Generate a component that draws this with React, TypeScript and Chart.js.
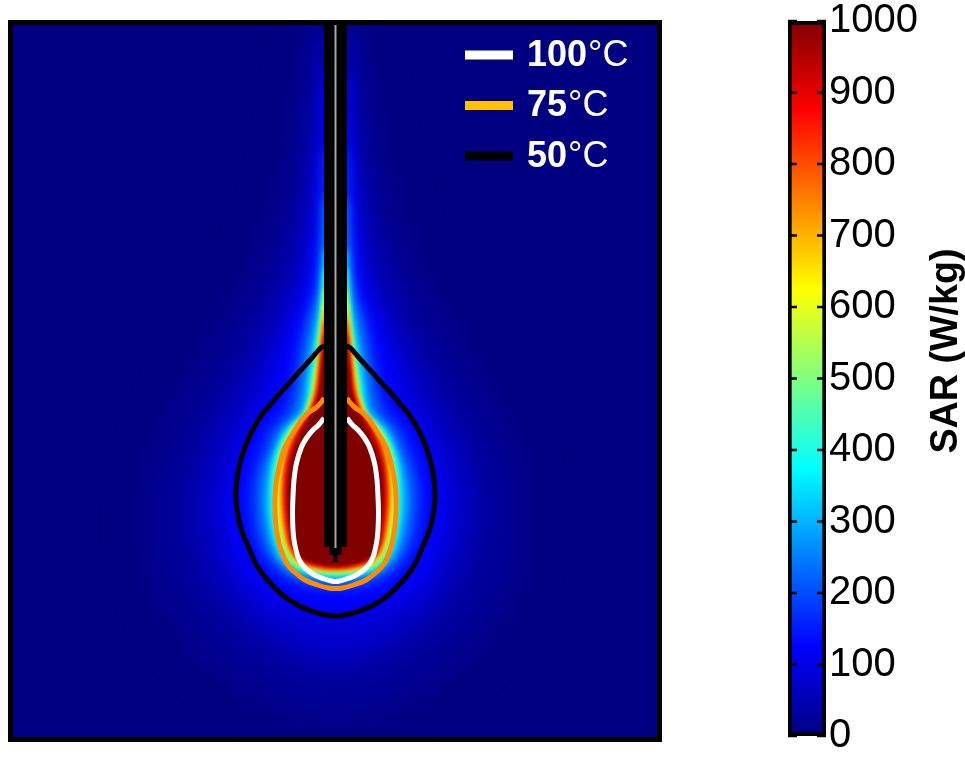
import React, { useEffect, useRef } from 'react';
import { Chart, registerables } from 'chart.js';

// ---------------- DATA ----------------
// Coordinates in mm: x = lateral offset from the antenna axis, y = depth below the top surface.
// Each SAR / temperature contour is symmetric about the antenna; given as [depth, halfWidth].
const SAR_MAX = 1000;
const sarLevels = [30, 60, 100, 150, 200, 300, 400, 500, 600, 700, 800, 900, 1000];

const sar30 = [[-2.5, 1.4], [3.5, 2.2], [11.5, 3.5], [19.5, 5.5], [26.5, 8.5], [32.5, 12.0], [38.5, 15.5], [44.5, 17.8], [49.5, 18.5], [54.5, 17.8], [59.5, 15.5], [63.5, 11.8], [66.5, 7.5], [68.5, 3.0], [69.1, 0]];
const sar60 = [[1.5, 1.15], [7.5, 1.5], [14.5, 2.2], [20.5, 3.2], [25.5, 4.5], [29.5, 6.2], [33.5, 8.0], [37.5, 10.0], [41.5, 12.0], [45.5, 13.3], [48.5, 13.6], [52.5, 13.0], [56.5, 11.2], [60.0, 8.0], [62.5, 4.0], [63.5, 0]];
const sar100 = [[5.5, 1.15], [12.5, 1.4], [17.5, 1.8], [22.5, 2.4], [26.5, 3.2], [29.8, 4.5], [33.2, 5.6], [37.5, 7.1], [40.5, 8.8], [43.5, 10.0], [47.2, 10.8], [50.5, 10.6], [53.5, 9.8], [56.0, 8.2], [57.5, 6.2], [58.5, 3.6], [58.9, 0]];
const sar150 = [[12.5, 1.15], [17.5, 1.4], [22.5, 1.7], [26.5, 2.2], [29.8, 3.3], [33.2, 4.0], [36.0, 4.5], [37.5, 4.9], [38.8, 5.5], [40.5, 6.9], [42.2, 7.55], [44.0, 8.2], [45.5, 8.55], [47.2, 8.7], [48.8, 8.65], [50.5, 8.4], [52.2, 7.9], [54.0, 6.8], [55.5, 5.0], [56.3, 2.8], [56.6, 0]];
const sar200 = [[17.5, 1.15], [20.5, 1.25], [23.2, 1.4], [26.5, 1.75], [29.8, 2.6], [33.2, 3.2], [36.0, 3.6], [37.5, 3.9], [38.8, 4.3], [40.5, 5.8], [42.2, 6.55], [44.0, 7.2], [45.5, 7.55], [47.2, 7.7], [48.8, 7.65], [50.5, 7.4], [52.2, 6.9], [53.7, 6.0], [55.0, 4.4], [55.7, 2.0], [55.9, 0]];
const sar300 = [[22.5, 1.15], [25.0, 1.3], [27.5, 1.5], [29.8, 1.85], [32.0, 2.25], [34.0, 2.6], [36.0, 2.9], [37.5, 3.05], [38.8, 3.45], [40.5, 5.1], [42.2, 5.9], [43.8, 6.45], [45.5, 6.75], [47.2, 6.9], [48.8, 6.85], [50.5, 6.6], [52.2, 6.15], [53.7, 5.3], [54.7, 3.8], [55.3, 0]];
const sar400 = [[24.5, 1.15], [26.5, 1.3], [28.5, 1.5], [30.5, 1.75], [32.5, 2.0], [34.5, 2.3], [36.0, 2.5], [37.5, 2.7], [38.8, 3.2], [40.5, 4.7], [42.2, 5.65], [43.8, 6.1], [45.5, 6.3], [47.2, 6.35], [48.8, 6.3], [50.5, 6.1], [52.2, 5.6], [53.7, 4.7], [54.6, 3.2], [55.1, 0]];
const sar500 = [[26.5, 1.15], [28.0, 1.28], [30.0, 1.45], [32.0, 1.7], [34.0, 1.95], [35.5, 2.2], [37.0, 2.4], [38.0, 2.75], [39.0, 3.05], [40.0, 4.1], [41.5, 5.0], [43.0, 5.5], [44.5, 5.8], [46.5, 6.0], [48.5, 5.95], [50.5, 5.7], [52.2, 5.2], [53.6, 4.4], [54.4, 3.0], [54.8, 0]];
const sar600 = [[27.8, 1.15], [29.2, 1.28], [31.0, 1.48], [33.0, 1.7], [34.8, 1.92], [36.0, 2.1], [37.0, 2.25], [38.0, 2.6], [39.0, 2.95], [40.0, 3.9], [41.5, 4.7], [43.0, 5.2], [44.5, 5.5], [46.5, 5.65], [48.5, 5.6], [50.5, 5.35], [52.2, 4.9], [53.5, 4.1], [54.2, 2.8], [54.6, 0]];
const sar700 = [[28.8, 1.15], [30.2, 1.28], [32.0, 1.47], [33.8, 1.67], [35.5, 1.88], [37.0, 2.15], [38.0, 2.45], [39.0, 2.85], [40.0, 3.7], [41.5, 4.5], [43.0, 5.0], [44.5, 5.3], [46.5, 5.45], [48.5, 5.4], [50.5, 5.15], [52.2, 4.7], [53.4, 4.0], [54.1, 2.7], [54.5, 0]];
const sar800 = [[29.8, 1.15], [31.0, 1.27], [32.8, 1.45], [34.5, 1.63], [36.0, 1.8], [37.0, 2.0], [38.0, 2.3], [39.0, 2.75], [40.0, 3.5], [41.5, 4.3], [43.0, 4.8], [44.5, 5.1], [46.5, 5.25], [48.5, 5.2], [50.5, 4.95], [52.2, 4.55], [53.3, 3.85], [54.0, 2.6], [54.4, 0]];
const sar900 = [[31.0, 1.15], [32.8, 1.35], [34.5, 1.5], [36.0, 1.65], [37.0, 1.85], [38.0, 2.15], [39.0, 2.6], [40.0, 3.25], [41.0, 3.8], [42.2, 4.3], [43.8, 4.75], [45.5, 4.95], [47.2, 5.0], [48.8, 4.9], [50.5, 4.7], [52.2, 4.3], [53.2, 3.65], [53.8, 2.6], [54.2, 0]];
const sar1000 = [[32.5, 1.15], [34.5, 1.42], [36.0, 1.52], [37.0, 1.68], [38.0, 2.0], [39.0, 2.5], [40.0, 3.0], [41.0, 3.5], [42.2, 4.0], [43.8, 4.5], [45.5, 4.7], [47.2, 4.75], [48.8, 4.65], [50.5, 4.45], [52.2, 4.05], [53.2, 3.4], [53.7, 2.4], [54.1, 0]];
const sarProfiles = [sar30, sar60, sar100, sar150, sar200, sar300, sar400, sar500, sar600, sar700, sar800, sar900, sar1000];

// Temperature isotherms
const tempLevels = [100, 75, 50];
const temp100 = [[39.3, 1.15], [40.0, 1.7], [40.5, 2.25], [41.3, 2.9], [42.2, 3.4], [43.8, 3.9], [45.5, 4.15], [47.2, 4.25], [48.8, 4.3], [50.5, 4.25], [51.5, 4.15], [52.5, 3.95], [53.2, 3.75], [54.0, 3.3], [54.6, 2.7], [55.1, 1.9], [55.4, 1.1], [55.6, 0.4], [55.65, 0]];
const temp75 = [[37.3, 1.15], [37.7, 1.4], [38.3, 2.0], [38.8, 2.75], [39.5, 3.4], [40.5, 4.05], [42.2, 5.05], [43.8, 5.55], [45.5, 5.9], [47.2, 6.05], [48.8, 6.05], [50.5, 5.9], [52.2, 5.55], [53.8, 4.9], [54.7, 4.1], [55.5, 3.05], [56.0, 1.8], [56.3, 0.7], [56.35, 0]];
const temp50 = [[32.1, 1.1], [32.3, 1.5], [33.5, 2.55], [34.5, 3.45], [35.5, 4.35], [36.8, 5.55], [38.0, 6.55], [38.8, 7.25], [40.5, 8.3], [42.2, 9.05], [44.0, 9.6], [45.5, 9.85], [47.2, 9.95], [48.8, 9.8], [50.5, 9.4], [52.2, 8.7], [54.0, 7.9], [55.5, 6.8], [57.0, 5.3], [58.0, 3.8], [58.6, 2.4], [59.0, 1.0], [59.1, 0]];
const tempProfiles = [temp100, temp75, temp50];

// Antenna (x, y) outline and inner conductor
const antennaOutline = [[-1.15, -1], [1.15, -1], [1.15, 52.2], [0.6, 52.2], [0.6, 53.0], [0.2, 53.0], [0.2, 53.7], [-0.2, 53.7], [-0.2, 53.0], [-0.6, 53.0], [-0.6, 52.2], [-1.15, 52.2]];
const antennaCore = [[0, -1], [0, 52.3]];

// Domain and colour bar
const domainX = [-32.25, 32.15];
const domainY = [0, 71.2];
const colorbarRange = [0, 1000];
const colorbarStep = 100;
const colorbarTitle = 'SAR (W/kg)';
const tempUnit = '°C';

// ---------------- STYLE ----------------
const heatBlurRadius = [22, 14, 9, 6, 4, 3, 2.5, 2, 2, 2, 2, 2, 1.5];
const tempLineColors = ['#FFFFFF', '#FF8C00', '#000000'];
const tempLegendColors = ['#FFFFFF', '#FFC000', '#000000'];
const FONT = "'Liberation Sans', Arial, sans-serif";

function jet(v: number): string {
  const c = (t: number) => Math.round(255 * Math.max(0, Math.min(1, t)));
  return `rgb(${c(1.5 - Math.abs(4 * v - 3))},${c(1.5 - Math.abs(4 * v - 2))},${c(1.5 - Math.abs(4 * v - 1))})`;
}
const jetStops = [0, 0.125, 0.375, 0.625, 0.875, 1];

function closedShape(profile: number[][]) {
  const right = profile.map(([d, w]) => ({ x: w, y: d }));
  const left = profile.slice(0, -1).reverse().map(([d, w]) => ({ x: -w, y: d }));
  return [...right, ...left];
}
function openContour(profile: number[][]) {
  const left = profile.map(([d, w]) => ({ x: -w, y: d }));
  const right = profile.slice(0, -1).reverse().map(([d, w]) => ({ x: w, y: d }));
  return [...left, ...right];
}

// Blur plugin registered BEFORE Filler so its hook runs before the fill is painted
const heatBlur = {
  id: 'heatBlur',
  beforeDatasetDraw(chart: any, args: any) {
    const ds: any = chart.data.datasets[args.index];
    if (ds && ds.blurRadius) {
      chart.ctx.save();
      chart.ctx.filter = `blur(${ds.blurRadius}px)`;
    }
  },
  afterDatasetDraw(chart: any, args: any) {
    const ds: any = chart.data.datasets[args.index];
    if (ds && ds.blurRadius) chart.ctx.restore();
  },
};
Chart.register(heatBlur as any);
Chart.register(...registerables);

const plotBackground = {
  id: 'plotBackground',
  beforeDatasetsDraw(chart: any) {
    const { ctx, chartArea: a } = chart;
    ctx.save();
    ctx.fillStyle = jet(0);
    ctx.fillRect(a.left, a.top, a.right - a.left, a.bottom - a.top);
    ctx.restore();
  },
};

const plotFrame = {
  id: 'plotFrame',
  afterDraw(chart: any) {
    const { ctx, chartArea: a } = chart;
    ctx.save();
    ctx.strokeStyle = '#000';
    ctx.lineWidth = 5;
    ctx.strokeRect(a.left - 2.5, a.top - 2.5, a.right - a.left + 5, a.bottom - a.top + 5);
    ctx.restore();
  },
};

const tempLegend = {
  id: 'tempLegend',
  afterDraw(chart: any) {
    const { ctx, chartArea: a } = chart;
    tempLevels.forEach((t, i) => {
      const cy = a.top + 30 + i * 50.5;
      ctx.save();
      ctx.fillStyle = tempLegendColors[i];
      ctx.fillRect(a.right - 192, cy - 4.5, 48, 9);
      ctx.fillStyle = '#FFFFFF';
      ctx.textBaseline = 'alphabetic';
      ctx.textAlign = 'left';
      const tx = a.right - 130;
      const by = cy + 10.5;
      ctx.font = `bold 36px ${FONT}`;
      const label = String(t);
      ctx.fillText(label, tx, by);
      const w = ctx.measureText(label).width;
      ctx.font = `36px ${FONT}`;
      ctx.fillText(tempUnit, tx + w + 1, by);
      ctx.restore();
    });
  },
};

const colorbarTicks = {
  id: 'colorbarTicks',
  afterDatasetsDraw(chart: any) {
    const { ctx, chartArea: a } = chart;
    const ys = chart.scales.y;
    ctx.save();
    ctx.strokeStyle = '#000';
    ctx.lineWidth = 2.5;
    ys.ticks.forEach((t: any) => {
      const py = ys.getPixelForValue(t.value);
      ctx.beginPath();
      ctx.moveTo(a.left, py);
      ctx.lineTo(a.left + 9, py);
      ctx.moveTo(a.right - 9, py);
      ctx.lineTo(a.right, py);
      ctx.stroke();
    });
    ctx.restore();
  },
  afterDraw(chart: any) {
    const { ctx, chartArea: a } = chart;
    ctx.save();
    ctx.translate(a.right + 131, a.top + 330);
    ctx.rotate(-Math.PI / 2);
    ctx.font = `bold 39px ${FONT}`;
    ctx.fillStyle = '#000';
    ctx.textAlign = 'center';
    ctx.textBaseline = 'alphabetic';
    ctx.fillText(colorbarTitle, 0, 0, 205);
    ctx.restore();
  },
};

export default function App() {
  const mainRef = useRef<HTMLCanvasElement>(null);
  const barRef = useRef<HTMLCanvasElement>(null);

  useEffect(() => {
    const heatDatasets = sarProfiles.map((prof, i) => {
      const lvl = sarLevels[i];
      const next = i + 1 < sarLevels.length ? sarLevels[i + 1] : SAR_MAX;
      const mid = i === 0 ? lvl : (lvl + next) / 2;
      return {
        label: `SAR ${lvl}`,
        data: closedShape(prof),
        fill: 'shape',
        backgroundColor: jet(mid / SAR_MAX),
        borderColor: 'transparent',
        borderWidth: 0,
        pointRadius: 0,
        pointHitRadius: 0,
        tension: 0.35,
        order: 100 - i,
        blurRadius: heatBlurRadius[i],
      };
    });
    const tempDatasets = tempProfiles.map((prof, i) => ({
      label: `${tempLevels[i]}${tempUnit}`,
      data: openContour(prof),
      fill: false,
      borderColor: tempLineColors[i],
      borderWidth: 5,
      pointRadius: 0,
      pointHitRadius: 0,
      tension: 0.35,
      order: 2 + i,
    }));
    const antennaDatasets = [
      {
        label: 'antenna',
        data: antennaOutline.map(([x, y]) => ({ x, y })),
        fill: 'shape',
        backgroundColor: '#000',
        borderColor: 'transparent',
        borderWidth: 0,
        pointRadius: 0,
        tension: 0,
        order: 1,
      },
      {
        label: 'conductor',
        data: antennaCore.map(([x, y]) => ({ x, y })),
        fill: false,
        borderColor: '#A8A8A8',
        borderWidth: 2,
        pointRadius: 0,
        tension: 0,
        order: 0,
      },
    ];

    const main = new Chart(mainRef.current as HTMLCanvasElement, {
      type: 'line',
      data: { datasets: [...heatDatasets, ...tempDatasets, ...antennaDatasets] as any },
      options: {
        animation: false,
        responsive: false,
        devicePixelRatio: 1,
        events: [],
        layout: { padding: { left: 13, top: 25, right: 43, bottom: 20 } },
        scales: {
          x: { type: 'linear', min: domainX[0], max: domainX[1], display: false },
          y: { type: 'linear', min: domainY[0], max: domainY[1], reverse: true, display: false },
        },
        plugins: { legend: { display: false }, tooltip: { enabled: false } },
      },
      plugins: [plotBackground, plotFrame, tempLegend],
    } as any);

    const bar = new Chart(barRef.current as HTMLCanvasElement, {
      type: 'bar',
      data: {
        labels: [''],
        datasets: [
          {
            label: colorbarTitle,
            data: [[colorbarRange[0], colorbarRange[1]]],
            backgroundColor: (c: any) => {
              const chart = c.chart;
              const ys = chart.scales && chart.scales.y;
              if (!ys || !chart.chartArea) return jet(0);
              const g = chart.ctx.createLinearGradient(0, ys.getPixelForValue(colorbarRange[0]), 0, ys.getPixelForValue(colorbarRange[1]));
              jetStops.forEach((p) => g.addColorStop(p, jet(p)));
              return g;
            },
            borderColor: '#000',
            borderWidth: 4,
            borderSkipped: false,
            categoryPercentage: 1,
            barPercentage: 1,
          },
        ],
      },
      options: {
        animation: false,
        responsive: false,
        devicePixelRatio: 1,
        events: [],
        layout: { padding: { left: 88, top: 20, right: 0, bottom: 18 } },
        scales: {
          x: { display: false },
          y: {
            type: 'linear',
            position: 'right',
            min: colorbarRange[0],
            max: colorbarRange[1],
            ticks: {
              stepSize: colorbarStep,
              callback: (v: any) => String(v),
              color: '#000',
              font: { family: FONT, size: 40, lineHeight: 0.9 },
              padding: 3,
            },
            grid: { display: false, drawTicks: false },
            border: { display: false },
            afterFit: (s: any) => {
              s.width = 139;
            },
          },
        },
        plugins: { legend: { display: false }, tooltip: { enabled: false } },
      },
      plugins: [colorbarTicks],
    } as any);

    return () => {
      main.destroy();
      bar.destroy();
    };
  }, []);

  return (
    <div style={{ position: 'absolute', left: 0, top: 0, width: 965, height: 757, background: '#fff' }}>
      <canvas ref={mainRef} width={700} height={757} style={{ position: 'absolute', left: 0, top: 0, width: 700, height: 757 }} />
      <canvas ref={barRef} width={265} height={757} style={{ position: 'absolute', left: 700, top: 0, width: 265, height: 757 }} />
    </div>
  );
}
